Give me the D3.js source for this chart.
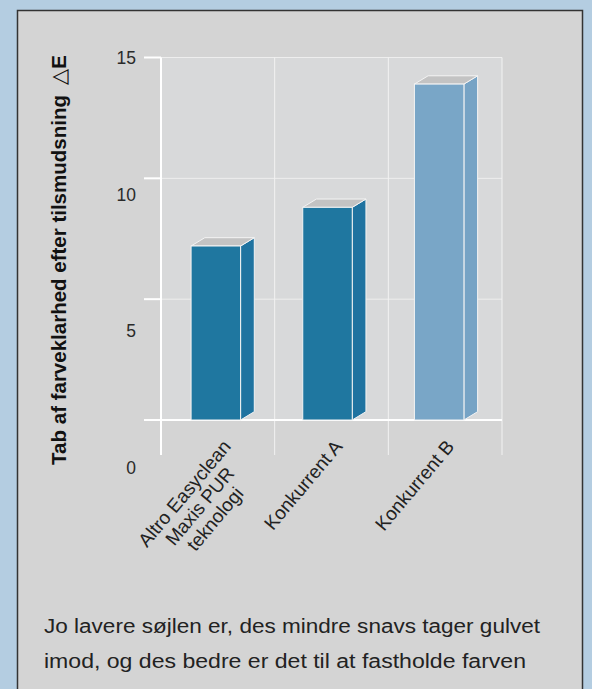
<!DOCTYPE html>
<html>
<head>
<meta charset="utf-8">
<script src="https://cdn.jsdelivr.net/npm/d3@7"></script>
<style>
  body { margin: 0; background: #b4cde1; }
  svg { display: block; }
</style>
</head>
<body>
<div id="chart"></div>
<script>
// data
const categories = ["Altro Easyclean\nMaxis PUR\nteknologi", "Konkurrent A", "Konkurrent B"];
const values = [7.2, 8.8, 13.9];
const yTicks = [0, 5, 10, 15];
const yTitle = "Tab af farveklarhed efter tilsmudsning";
const caption = ["Jo lavere søjlen er, des mindre snavs tager gulvet",
                 "imod, og des bedre er det til at fastholde farven"];

// styles
const frontColors = ["#1f77a0", "#1f77a0", "#79a6c7"];
const sideColors = ["#1f73a0", "#1f73a0", "#76a3c5"];

const width = 592, height = 689;
const plot = {left: 161, right: 502, top: 57.5, bottom: 420};

const svg = d3.select("#chart").append("svg")
  .attr("width", width)
  .attr("height", height);

// grey panel with dark border
svg.append("rect")
  .attr("x", 17.5).attr("y", 10.5)
  .attr("width", 565).attr("height", 700)
  .attr("fill", "#d4d4d4")
  .attr("stroke", "#333")
  .attr("stroke-width", 1.5);

// scales
const x = d3.scaleBand().domain(categories).range([plot.left, plot.right]).padding(0);
// bars sit on a slightly tighter spacing than the grid
const xBar = d3.scaleBand().domain(categories).range([160, 495]).padding(0);
const y = d3.scaleLinear().domain([0, 15]).range([plot.bottom, plot.top]);
// tick labels in the original sit on their own (offset) scale
const yLab = d3.scaleLinear().domain([0, 15]).range([468, 58]);

// plot background
svg.append("rect")
  .attr("x", plot.left).attr("y", plot.top)
  .attr("width", plot.right - plot.left).attr("height", plot.bottom - plot.top)
  .attr("fill", "#d8d9da");

// horizontal grid
svg.append("g").selectAll("line")
  .data(yTicks.filter(d => d > 0))
  .join("line")
  .attr("x1", plot.left).attr("x2", plot.right)
  .attr("y1", d => y(d)).attr("y2", d => y(d))
  .attr("stroke", "#eeeeee").attr("stroke-width", 1);

// vertical grid at band edges
const edges = categories.map(c => x(c)).concat([plot.right]);
svg.append("g").selectAll("line")
  .data(edges)
  .join("line")
  .attr("x1", d => d).attr("x2", d => d)
  .attr("y1", plot.top).attr("y2", 455)
  .attr("stroke", (d, i) => i == 0 ? "#ffffff" : "#f2f2f2")
  .attr("stroke-width", (d, i) => i == 0 ? 2 : 1);

// tick marks on the left
svg.append("g").selectAll("line")
  .data(yTicks)
  .join("line")
  .attr("x1", 144).attr("x2", plot.left)
  .attr("y1", d => y(d)).attr("y2", d => y(d))
  .attr("stroke", "#fff").attr("stroke-width", 2);

// baseline
svg.append("line")
  .attr("x1", 144).attr("x2", plot.right)
  .attr("y1", y(0)).attr("y2", y(0))
  .attr("stroke", "#fff").attr("stroke-width", 2);

// tick labels
svg.append("g").selectAll("text")
  .data(yTicks)
  .join("text")
  .attr("x", 136)
  .attr("y", d => yLab(d))
  .attr("dy", "0.35em")
  .attr("text-anchor", "end")
  .style("font-family", "Liberation Sans, Arial, sans-serif")
  .style("font-size", "17.5px")
  .attr("fill", "#2a2a2a")
  .text(d => d);

// 3d bars
const dx = 13.7, dy = 8.3;
const barW = 49.5;
const barX = c => xBar(c) + xBar.bandwidth() / 2 - barW / 2;
const bars = svg.append("g").selectAll("g")
  .data(values)
  .join("g");

bars.append("path")
  .attr("d", (d, i) => {
    const x1 = barX(categories[i]) + barW, yt = y(d), yb = y(0);
    return `M${x1},${yb}L${x1 + dx},${yb - dy}L${x1 + dx},${yt - dy}L${x1},${yt}Z`;
  })
  .attr("fill", (d, i) => sideColors[i])
  .attr("stroke", "#f4f4f4").attr("stroke-width", 1);

bars.append("path")
  .attr("d", (d, i) => {
    const x0 = barX(categories[i]), x1 = x0 + barW, yt = y(d);
    return `M${x0},${yt}L${x0 + dx},${yt - dy}L${x1 + dx},${yt - dy}L${x1},${yt}Z`;
  })
  .attr("fill", "#c3c3c3")
  .attr("stroke", "#f4f4f4").attr("stroke-width", 1);

bars.append("rect")
  .attr("x", (d, i) => barX(categories[i]))
  .attr("y", d => y(d))
  .attr("width", barW)
  .attr("height", d => y(0) - y(d))
  .attr("fill", (d, i) => frontColors[i])
  .attr("stroke", "#f4f4f4").attr("stroke-width", 1);

// category labels, rotated; lines of a label centred on each other
const catLabels = svg.append("g").selectAll("text")
  .data(categories)
  .join("text")
  .attr("transform", d => `translate(${xBar(d) + xBar.bandwidth() / 2 + 16},${447}) rotate(-50)`)
  .attr("text-anchor", "end")
  .style("font-family", "Liberation Sans, Arial, sans-serif")
  .style("font-size", "19px")
  .attr("fill", "#222");

catLabels.each(function(d) {
  const t = d3.select(this);
  const spans = t.selectAll("tspan")
    .data(d.split("\n"))
    .join("tspan")
    .attr("x", 0)
    .attr("dy", (s, i) => i == 0 ? 0 : "1.05em")
    .text(s => s);
  const lens = spans.nodes().map(n => n.getComputedTextLength());
  const maxLen = d3.max(lens);
  spans.attr("x", (s, i) => -(maxLen - lens[i]) / 2);
});

// y axis title
const title = svg.append("text")
  .attr("transform", "translate(66,260) rotate(-90)")
  .attr("text-anchor", "middle")
  .style("font-family", "Liberation Sans, Arial, sans-serif")
  .style("font-size", "20.5px")
  .attr("fill", "#111");
title.append("tspan").style("font-weight", "bold").text(yTitle);
title.append("tspan").attr("dx", "0.5em").style("font-weight", "normal").text("△");
title.append("tspan").style("font-weight", "bold").text("E");

// caption under the chart
svg.append("g").selectAll("text")
  .data(caption)
  .join("text")
  .attr("x", 44)
  .attr("y", (d, i) => 633 + i * 35)
  .attr("textLength", (d, i) => i == 0 ? 496 : 482)
  .attr("lengthAdjust", "spacingAndGlyphs")
  .style("font-family", "Liberation Sans Narrow, Liberation Sans, Arial, sans-serif")
  .style("font-size", "19.5px")
  .attr("fill", "#222")
  .text(d => d);
</script>
</body>
</html>
